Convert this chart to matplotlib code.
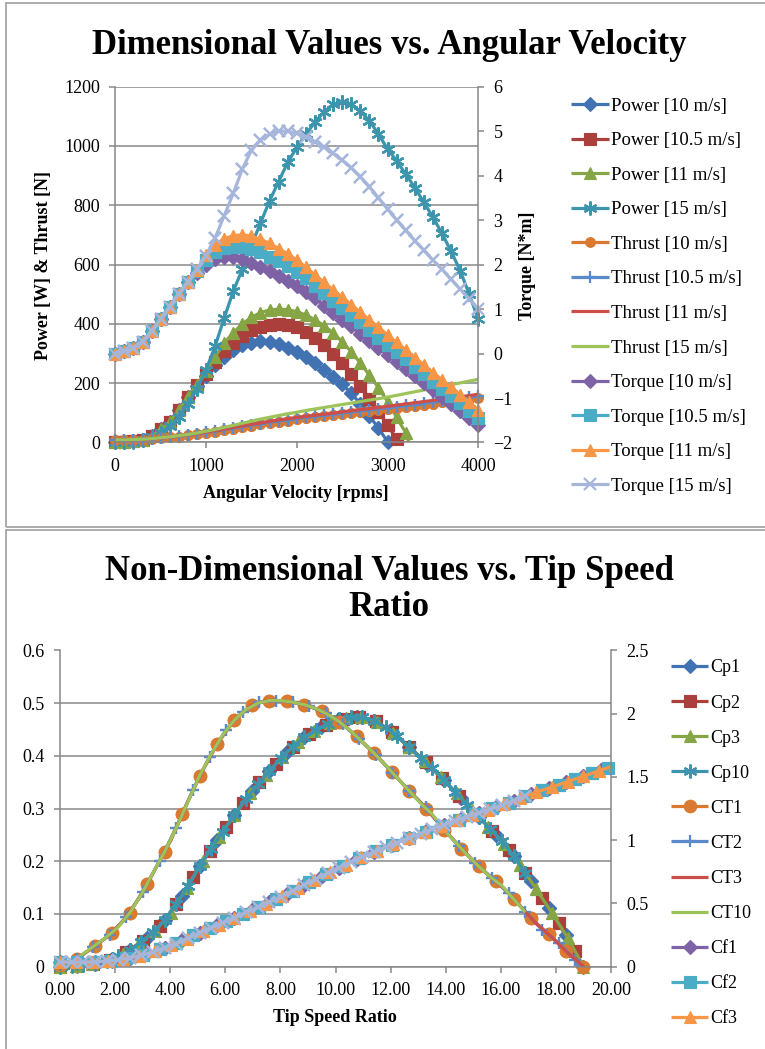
import numpy as np
import matplotlib
matplotlib.use("Agg")
import matplotlib.pyplot as plt
from matplotlib.patches import Rectangle

plt.rcParams['font.family'] = ['Liberation Serif', 'DejaVu Serif']

W, H = 765, 1049
nan = np.nan

# ---------------- top chart data (rpm grid, 100 rpm steps) ----------------
rpm = np.arange(0, 4001, 100)

power_10 = [0, 1, 4, 10, 22, 45, 70, 110, 155, 192, 225, 260, 290, 313, 328, 337, 341, 340, 333, 320,
            305, 288, 268, 246, 222, 196, 166, 130, 90, 48, 3, -60] + [nan] * 9
power_105 = [0, 1, 4, 10, 22, 45, 70, 110, 155, 193, 232, 272, 308, 337, 360, 378, 390, 397, 400, 397,
             388, 374, 353, 328, 300, 268, 230, 190, 148, 104, 58, 12, -60] + [nan] * 8
power_11 = [0, 1, 4, 10, 22, 45, 70, 110, 155, 195, 240, 290, 335, 370, 400, 422, 438, 447, 450, 448,
            441, 430, 414, 394, 370, 340, 306, 268, 227, 185, 138, 85, 33, -60] + [nan] * 7
power_15 = [0, 1, 3, 8, 18, 33, 55, 85, 130, 180, 245, 325, 420, 510, 585, 665, 740, 815, 880, 945,
            995, 1040, 1080, 1115, 1140, 1148, 1140, 1118, 1085, 1040, 990, 950, 905, 860, 810, 760,
            705, 645, 580, 500, 415]

thrust_10 = [8, 8, 9, 10, 12, 14, 17, 20, 24, 28, 32, 37, 42, 47, 52, 57, 62, 66, 70, 74,
             78, 81, 85, 88, 92, 95, 99, 102, 106, 109, 112, 116, 120, 123, 127, 131, 135, 139, 143, 147, 151]
thrust_105 = [8, 8, 9, 10, 12, 15, 18, 21, 25, 29, 34, 39, 44, 49, 54, 59, 64, 69, 73, 77,
              81, 85, 88, 92, 95, 99, 103, 107, 110, 114, 117, 121, 125, 128, 132, 136, 140, 144, 149, 153, 157]
thrust_11 = [8, 9, 9, 10, 13, 15, 18, 22, 26, 30, 35, 40, 45, 51, 56, 61, 66, 71, 76, 80,
             84, 88, 92, 95, 99, 103, 107, 111, 114, 118, 122, 126, 130, 134, 138, 142, 146, 150, 154, 158, 163]
thrust_15 = [9, 9, 10, 11, 13, 16, 19, 23, 27, 32, 38, 44, 51, 58, 65, 72, 79, 85, 91, 97,
             102, 108, 113, 118, 123, 128, 133, 138, 143, 148, 153, 159, 165, 171, 177, 183, 189, 195, 201, 207, 213]

torque_10 = [0.0, 0.05, 0.12, 0.27, 0.5, 0.78, 1.05, 1.35, 1.6, 1.82, 2.0, 2.12, 2.17, 2.17, 2.12, 2.03, 1.94, 1.85,
             1.75, 1.64, 1.52, 1.38, 1.24, 1.08, 0.92, 0.76, 0.61, 0.45, 0.29, 0.13, -0.03, -0.18, -0.34, -0.5,
             -0.66, -0.81, -0.97, -1.13, -1.29, -1.44, -1.6]
torque_105 = [0.0, 0.05, 0.12, 0.27, 0.5, 0.78, 1.05, 1.35, 1.6, 1.85, 2.1, 2.28, 2.37, 2.4, 2.4, 2.35, 2.28, 2.18,
              2.07, 1.96, 1.84, 1.69, 1.52, 1.36, 1.19, 1.03, 0.86, 0.7, 0.53, 0.36, 0.2, 0.03, -0.13, -0.3,
              -0.46, -0.63, -0.79, -0.96, -1.12, -1.29, -1.45]
torque_11 = [0.0, 0.05, 0.12, 0.27, 0.5, 0.78, 1.05, 1.35, 1.6, 1.88, 2.22, 2.45, 2.58, 2.65, 2.67, 2.64, 2.57, 2.48,
             2.36, 2.24, 2.1, 1.94, 1.77, 1.6, 1.43, 1.27, 1.1, 0.93, 0.76, 0.59, 0.42, 0.25, 0.08, -0.09,
             -0.26, -0.43, -0.59, -0.76, -0.93, -1.1, -1.27]
torque_15 = [0.0, 0.05, 0.12, 0.27, 0.5, 0.78, 1.05, 1.35, 1.6, 1.9, 2.2, 2.6, 3.1, 3.6, 4.15, 4.57, 4.8, 4.93,
             5.0, 5.0, 4.95, 4.87, 4.76, 4.64, 4.5, 4.35, 4.18, 3.98, 3.75, 3.5, 3.25, 3.0, 2.77, 2.54,
             2.32, 2.1, 1.89, 1.67, 1.45, 1.23, 1.0]

# ---------------- bottom chart data (tip speed ratio) ----------------
# marker spacing in TSR for each wind speed (one step = 100 rpm)
tsr_step = {'10': 0.6333, '10.5': 0.6032, '11': 0.5758, '15': 0.4222}

cp1 = [0, 0.0015, 0.005, 0.014, 0.031, 0.055, 0.088, 0.134, 0.19, 0.24, 0.288, 0.333, 0.371, 0.407, 0.435, 0.456,
       0.469, 0.474, 0.467, 0.446, 0.417, 0.387, 0.354, 0.319, 0.284, 0.25, 0.21, 0.162, 0.112, 0.059, 0.0, -0.06]
cp2 = [0, 0.0014, 0.005, 0.013, 0.028, 0.049, 0.077, 0.118, 0.17, 0.22, 0.265, 0.31, 0.35, 0.385, 0.417, 0.442,
       0.459, 0.47, 0.474, 0.466, 0.445, 0.417, 0.388, 0.357, 0.324, 0.29, 0.258, 0.222, 0.178, 0.13, 0.082,
       0.03, -0.06]
cp3 = [0, 0.0013, 0.004, 0.011, 0.024, 0.044, 0.068, 0.102, 0.15, 0.2, 0.245, 0.288, 0.329, 0.364, 0.398, 0.426,
       0.447, 0.462, 0.472, 0.474, 0.464, 0.443, 0.417, 0.39, 0.36, 0.329, 0.297, 0.265, 0.232, 0.193, 0.148,
       0.102, 0.055, 0.0, -0.06]
cp10 = [0, 0.001, 0.0025, 0.005, 0.011, 0.019, 0.031, 0.047, 0.065, 0.088, 0.118, 0.153, 0.19, 0.224, 0.256,
        0.288, 0.318, 0.346, 0.371, 0.396, 0.417, 0.435, 0.449, 0.461, 0.469, 0.473, 0.474, 0.467, 0.454, 0.437,
        0.417, 0.396, 0.377, 0.354, 0.331, 0.307, 0.284, 0.261, 0.238, 0.21, 0.178]

ct1 = [0.003, 0.015, 0.039, 0.064, 0.102, 0.157, 0.218, 0.289, 0.362, 0.422, 0.468, 0.497, 0.505, 0.504, 0.497,
       0.486, 0.465, 0.437, 0.405, 0.37, 0.334, 0.3, 0.26, 0.224, 0.19, 0.162, 0.129, 0.092, 0.061, 0.029, 0.0, -0.06]
ct2 = [0.003, 0.014, 0.037, 0.06, 0.094, 0.142, 0.201, 0.263, 0.335, 0.398, 0.45, 0.484, 0.502, 0.505, 0.502,
       0.494, 0.481, 0.46, 0.432, 0.402, 0.368, 0.334, 0.302, 0.264, 0.229, 0.196, 0.168, 0.139, 0.104, 0.07,
       0.045, 0.013, -0.06]
ct3 = [0.003, 0.013, 0.035, 0.057, 0.087, 0.13, 0.185, 0.24, 0.31, 0.373, 0.428, 0.468, 0.495, 0.505, 0.505,
       0.5, 0.491, 0.477, 0.456, 0.428, 0.399, 0.367, 0.334, 0.303, 0.268, 0.234, 0.202, 0.173, 0.148, 0.115,
       0.082, 0.056, 0.026, 0.0, -0.06]
ct10 = [0.003, 0.009, 0.024, 0.04, 0.056, 0.075, 0.102, 0.137, 0.178, 0.218, 0.263, 0.313, 0.362, 0.404, 0.44,
        0.468, 0.488, 0.5, 0.505, 0.505, 0.502, 0.497, 0.49, 0.479, 0.465, 0.447, 0.426, 0.405, 0.382, 0.358,
        0.334, 0.31, 0.289, 0.26, 0.236, 0.212, 0.19, 0.17, 0.153, 0.128, 0.103]

cf1 = [0.035, 0.035, 0.035, 0.047, 0.07, 0.103, 0.15, 0.206, 0.267, 0.327, 0.386, 0.447, 0.51, 0.575, 0.646,
       0.715, 0.783, 0.847, 0.906, 0.963, 1.017, 1.069, 1.119, 1.168, 1.215, 1.262, 1.311, 1.363, 1.41, 1.458,
       1.505, 1.553, 1.6]
cf2 = [0.035, 0.035, 0.035, 0.045, 0.066, 0.091, 0.137, 0.185, 0.25, 0.305, 0.358, 0.415, 0.474, 0.535, 0.6,
       0.665, 0.731, 0.795, 0.855, 0.911, 0.965, 1.017, 1.066, 1.115, 1.161, 1.206, 1.251, 1.297, 1.346, 1.394,
       1.437, 1.483, 1.527, 1.573, 1.62]
cf3 = [0.035, 0.035, 0.035, 0.044, 0.062, 0.085, 0.119, 0.167, 0.22, 0.277, 0.332, 0.386, 0.441, 0.498, 0.556,
       0.62, 0.683, 0.747, 0.806, 0.864, 0.917, 0.968, 1.017, 1.064, 1.111, 1.156, 1.198, 1.241, 1.285, 1.331,
       1.377, 1.42, 1.462, 1.505, 1.55, 1.592]
cf10 = [0.035, 0.035, 0.035, 0.035, 0.042, 0.053, 0.07, 0.088, 0.114, 0.15, 0.181, 0.222, 0.267, 0.307, 0.346,
        0.386, 0.428, 0.468, 0.51, 0.552, 0.598, 0.646, 0.692, 0.738, 0.783, 0.826, 0.868, 0.906, 0.944, 0.98,
        1.017, 1.052, 1.086, 1.119, 1.153, 1.185, 1.215, 1.246, 1.278, 1.311, 1.346]

# Excel-like colours
c_blue, c_red, c_green, c_teal = '#4172B1', '#AA3F3C', '#86A545', '#3C94AD'
c_orange_d, c_blue_l, c_red_l, c_green_l = '#D97A30', '#5A8ACB', '#CC4E4A', '#9DC35B'
c_purple, c_cyan, c_orange, c_lav = '#7E62A6', '#4BACC6', '#F79646', '#A6B6DB'
star = (6, 2, 0)
grey = '#878787'


def tsr(vals, v):
    return np.arange(len(vals)) * tsr_step[v]


def draw(ax, x, y, color, marker, label, xlim, ylim, ms=8):
    x = np.asarray(x, float)
    y = np.asarray(y, float)
    mew = 1.6 if marker in ('x', '+', star) else 0.8
    line, = ax.plot(x, y, color=color, lw=2.3, marker=marker, ms=ms, mfc=color, mec=color,
                    mew=mew, label=label, solid_capstyle='butt')
    if marker is not None:
        # Excel does not clip markers that sit on the edge of the plot area
        keep = (x >= xlim[0]) & (x <= xlim[1]) & (y >= ylim[0]) & (y <= ylim[1])
        ax.plot(x[keep], y[keep], ls='none', marker=marker, ms=ms, mfc=color, mec=color,
                mew=mew, clip_on=False)
    return line


def style(ax, ax2):
    for a in (ax, ax2):
        for s in a.spines.values():
            s.set_color(grey)
            s.set_linewidth(1.1)
        a.spines['top'].set_visible(False)
        a.tick_params(direction='out', length=4, width=1.1, color=grey, labelsize=13, pad=7)
    ax.spines['right'].set_visible(False)
    ax2.spines['left'].set_visible(False)
    ax2.spines['bottom'].set_visible(False)
    ax.yaxis.grid(True, color=grey, lw=1.1)
    ax.set_axisbelow(True)


def fx(px):
    return px / W


def fy(py):
    return 1 - py / H


fig = plt.figure(figsize=(W / 100, H / 100), dpi=100)

# panel frames
fig.patches.append(Rectangle((fx(6), fy(527)), 1.2, fy(3) - fy(527), transform=fig.transFigure,
                             fill=False, ec='#A6A6A6', lw=1.3))
fig.patches.append(Rectangle((fx(6), fy(1080)), 1.2, fy(530) - fy(1080), transform=fig.transFigure,
                             fill=False, ec='#A6A6A6', lw=1.3))

# ---------------- top chart ----------------
ax = fig.add_axes([fx(115.3), fy(442.5), fx(478.3) - fx(115.3), fy(86.7) - fy(442.5)])
ax2 = ax.twinx()
xl, yl, yl2 = (0, 4000), (0, 1200), (-2, 6)
ax.set_xlim(*xl)
ax.set_ylim(*yl)
ax2.set_ylim(*yl2)
ax.set_xticks(np.arange(0, 4001, 1000))
ax.set_yticks(np.arange(0, 1201, 200))
ax2.set_yticks(np.arange(-2, 7, 1))

h = []
h.append(draw(ax, rpm, power_10, c_blue, 'D', 'Power [10 m/s]', xl, yl, 7.5))
h.append(draw(ax, rpm, power_105, c_red, 's', 'Power [10.5 m/s]', xl, yl))
h.append(draw(ax, rpm, power_11, c_green, '^', 'Power [11 m/s]', xl, yl, 9))
h.append(draw(ax, rpm, power_15, c_teal, star, 'Power [15 m/s]', xl, yl, 10))
h.append(draw(ax, rpm, thrust_10, c_orange_d, 'o', 'Thrust [10 m/s]', xl, yl, 7))
h.append(draw(ax, rpm, thrust_105, c_blue_l, '+', 'Thrust [10.5 m/s]', xl, yl))
h.append(draw(ax, rpm, thrust_11, c_red_l, None, 'Thrust [11 m/s]', xl, yl))
h.append(draw(ax, rpm, thrust_15, c_green_l, None, 'Thrust [15 m/s]', xl, yl))
h.append(draw(ax2, rpm, torque_10, c_purple, 'D', 'Torque [10 m/s]', xl, yl2, 7.5))
h.append(draw(ax2, rpm, torque_105, c_cyan, 's', 'Torque [10.5 m/s]', xl, yl2))
h.append(draw(ax2, rpm, torque_11, c_orange, '^', 'Torque [11 m/s]', xl, yl2, 9))
h.append(draw(ax2, rpm, torque_15, c_lav, 'x', 'Torque [15 m/s]', xl, yl2))
style(ax, ax2)

fig.text(fx(389), fy(45), 'Dimensional Values vs. Angular Velocity', ha='center', va='center',
         fontsize=25, fontweight='bold')
fig.text(fx(44), fy(266), 'Power [W] & Thrust [N]', rotation=90, ha='center', va='center',
         fontsize=13, fontweight='bold')
fig.text(fx(527), fy(266), 'Torque [N*m]', rotation=90, ha='center', va='center',
         fontsize=13, fontweight='bold')
fig.text(fx(296), fy(494), 'Angular Velocity [rpms]', ha='center', va='center',
         fontsize=13, fontweight='bold')
fig.legend(h, [l.get_label() for l in h], loc='upper left', bbox_to_anchor=(fx(571), fy(97.5)),
           frameon=False, fontsize=13.5, handlelength=2.0, handletextpad=0.15, labelspacing=0.93,
           borderpad=0, borderaxespad=0)

# ---------------- bottom chart ----------------
bx = fig.add_axes([fx(60), fy(966.5), fx(611) - fx(60), fy(650.5) - fy(966.5)])
bx2 = bx.twinx()
xl, yl, yl2 = (0, 20), (0, 0.6), (0, 2.5)
bx.set_xlim(*xl)
bx.set_ylim(*yl)
bx2.set_ylim(*yl2)
bx.set_xticks(np.arange(0, 21, 2))
bx.set_xticklabels(['%.2f' % v for v in np.arange(0, 21, 2)])
bx.set_yticks(np.arange(0, 0.61, 0.1))
bx.set_yticklabels(['0', '0.1', '0.2', '0.3', '0.4', '0.5', '0.6'])
bx2.set_yticks(np.arange(0, 2.51, 0.5))
bx2.set_yticklabels(['0', '0.5', '1', '1.5', '2', '2.5'])

g = []
g.append(draw(bx, tsr(cp1, '10'), cp1, c_blue, 'D', 'Cp1', xl, yl, 7.5))
g.append(draw(bx, tsr(cp2, '10.5'), cp2, c_red, 's', 'Cp2', xl, yl))
g.append(draw(bx, tsr(cp3, '11'), cp3, c_green, '^', 'Cp3', xl, yl, 9))
g.append(draw(bx, tsr(cp10, '15'), cp10, c_teal, star, 'Cp10', xl, yl, 10))
g.append(draw(bx, tsr(ct1, '10'), ct1, c_orange_d, 'o', 'CT1', xl, yl, 9))
g.append(draw(bx, tsr(ct2, '10.5'), ct2, c_blue_l, '+', 'CT2', xl, yl))
g.append(draw(bx, tsr(ct3, '11'), ct3, c_red_l, None, 'CT3', xl, yl))
g.append(draw(bx, tsr(ct10, '15'), ct10, c_green_l, None, 'CT10', xl, yl))
g.append(draw(bx2, tsr(cf1, '10'), cf1, c_purple, 'D', 'Cf1', xl, yl2, 7.5))
g.append(draw(bx2, tsr(cf2, '10.5'), cf2, c_cyan, 's', 'Cf2', xl, yl2))
g.append(draw(bx2, tsr(cf3, '11'), cf3, c_orange, '^', 'Cf3', xl, yl2, 9))
draw(bx2, tsr(cf10, '15'), cf10, c_lav, 'x', 'Cf10', xl, yl2)
style(bx, bx2)

fig.text(fx(389), fy(589), 'Non-Dimensional Values vs. Tip Speed\nRatio', ha='center', va='center',
         fontsize=25, fontweight='bold', linespacing=1.12)
fig.text(fx(335), fy(1018), 'Tip Speed Ratio', ha='center', va='center', fontsize=13, fontweight='bold')
fig.legend(g, [l.get_label() for l in g], loc='upper left', bbox_to_anchor=(fx(671), fy(659.5)),
           frameon=False, fontsize=13, handlelength=2.05, handletextpad=0.15, labelspacing=1.0,
           borderpad=0, borderaxespad=0)

fig.savefig('out.png', dpi=100)
